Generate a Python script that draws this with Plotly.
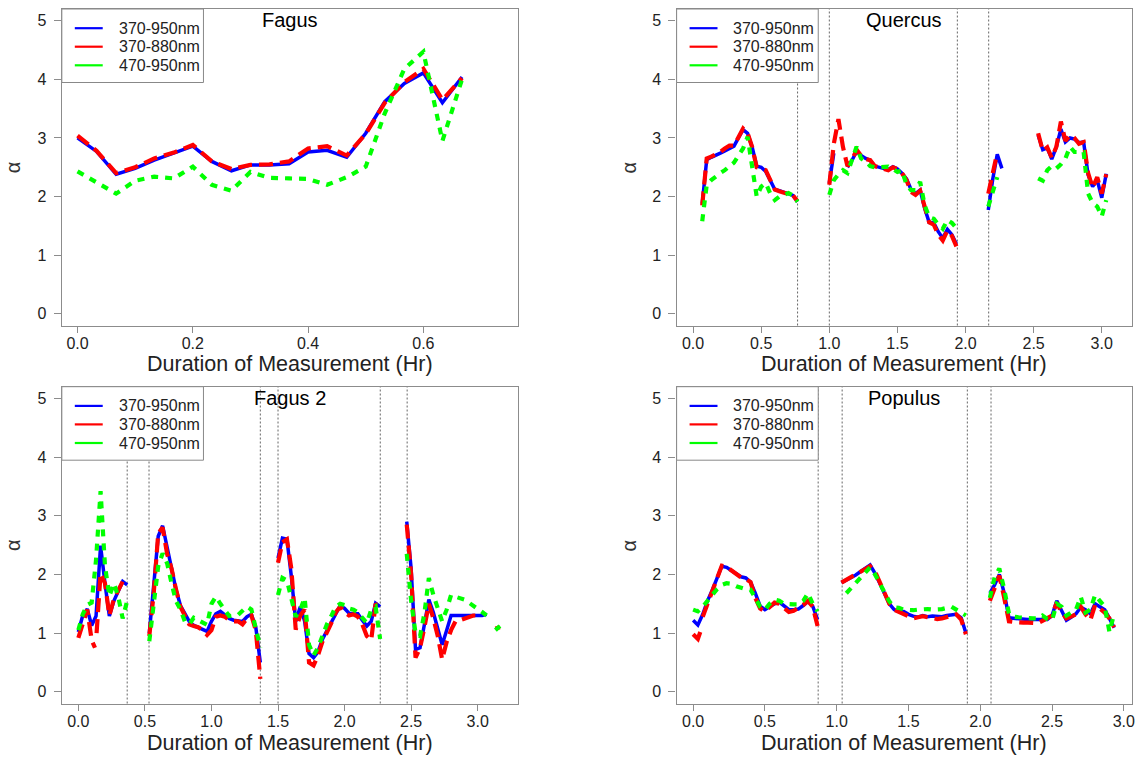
import plotly.graph_objects as go

# ======================= DATA =======================
# ---- Fagus ----
fagus_x = [0.0, 0.033, 0.067, 0.1, 0.133, 0.167, 0.2, 0.233, 0.267, 0.3, 0.333,
           0.367, 0.4, 0.433, 0.467, 0.5, 0.533, 0.567, 0.6, 0.633, 0.667]
fagus_blue = [3.00, 2.77, 2.38, 2.48, 2.62, 2.74, 2.86, 2.60, 2.44, 2.54, 2.54,
              2.56, 2.76, 2.79, 2.67, 3.08, 3.62, 3.93, 4.11, 3.60, 4.04]
fagus_red = [3.04, 2.78, 2.40, 2.50, 2.65, 2.75, 2.88, 2.60, 2.47, 2.54, 2.55,
             2.60, 2.82, 2.86, 2.70, 3.07, 3.60, 3.95, 4.18, 3.65, 4.02]
fagus_green = [2.43, 2.25, 2.05, 2.27, 2.34, 2.31, 2.51, 2.20, 2.10, 2.42, 2.32,
               2.31, 2.30, 2.20, 2.33, 2.51, 3.42, 4.18, 4.47, 2.95, 4.00]

# ---- Quercus ----
quercus_x1 = [0.067, 0.1, 0.133, 0.167, 0.2, 0.233, 0.267, 0.3, 0.333, 0.367, 0.4,
              0.433, 0.467, 0.5, 0.533, 0.567, 0.6, 0.633, 0.667, 0.7, 0.733, 0.767]
quercus_blue1 = [1.88, 2.63, 2.67, 2.70, 2.74, 2.78, 2.82, 2.86, 3.00, 3.14, 3.08,
                 2.85, 2.52, 2.50, 2.43, 2.28, 2.12, 2.10, 2.07, 2.05, 2.02, 1.91]
quercus_red1 = [1.85, 2.65, 2.68, 2.72, 2.76, 2.82, 2.87, 2.87, 3.02, 3.16, 3.08,
                2.85, 2.50, 2.48, 2.45, 2.28, 2.12, 2.09, 2.07, 2.05, 2.02, 1.92]
quercus_green1 = [1.58, 2.20, 2.28, 2.35, 2.40, 2.45, 2.52, 2.58, 2.70, 2.82, 3.02,
                  2.50, 2.00, 2.17, 2.23, 2.05, 1.94, 2.00, 2.03, 2.06, 2.02, 1.91]

quercus_x2 = [1.0, 1.033, 1.067, 1.1, 1.133, 1.167, 1.2, 1.233, 1.267, 1.3, 1.333,
              1.367, 1.4, 1.433, 1.467, 1.5, 1.533, 1.567, 1.6, 1.633, 1.667, 1.7,
              1.733, 1.767, 1.8, 1.833, 1.867, 1.9, 1.933]
quercus_blue2 = [2.23, 2.74, None, None, 2.50, 2.62, 2.77, 2.70, 2.65, 2.62, 2.52,
                 2.50, 2.48, 2.46, 2.51, 2.47, 2.40, 2.30, 2.12, 2.05, 2.11, 1.80,
                 1.56, 1.55, 1.40, 1.29, 1.44, 1.35, 1.19]
quercus_red2 = [2.20, 2.90, 3.32, 2.85, 2.52, 2.62, 2.80, 2.70, 2.64, 2.62, 2.52,
                2.50, 2.47, 2.45, 2.50, 2.47, 2.40, 2.28, 2.08, 2.03, 2.10, 1.80,
                1.56, 1.52, 1.35, 1.25, 1.42, 1.33, 1.15]
quercus_green2 = [2.03, 2.28, 2.38, 2.45, 2.40, 2.62, 2.85, 2.65, 2.60, 2.52, 2.50,
                  2.50, 2.50, 2.51, 2.47, 2.42, 2.45, 2.20, 2.11, 2.11, 2.25, 1.85,
                  1.65, 1.62, 1.52, 1.45, 1.60, 1.55, 1.46]

quercus_x3 = [2.167, 2.2, 2.233, 2.267]
quercus_blue3 = [1.77, 2.30, 2.72, 2.48]
quercus_red3 = [2.05, 2.40, 2.75, None]
quercus_green3 = [1.83, 2.11, 2.33, None]

quercus_x4 = [2.533, 2.567, 2.6, 2.633, 2.667, 2.7, 2.733, 2.767, 2.8, 2.833, 2.867,
              2.9, 2.933, 2.967, 3.0, 3.033]
quercus_blue4 = [3.05, 2.80, 2.83, 2.64, 2.85, 3.15, 2.93, 3.00, 2.98, 2.92, 2.93,
                 2.37, 2.17, 2.28, 1.98, 2.39]
quercus_red4 = [3.08, 2.78, 2.84, 2.66, 2.85, 3.28, 2.95, 3.05, 3.00, 2.90, 2.93,
                2.40, 2.15, 2.33, 2.05, 2.38]
quercus_green4 = [2.31, 2.27, 2.45, 2.52, 2.48, 2.55, 2.65, 2.85, 2.76, 2.76, 2.76,
                  2.05, 1.89, 1.83, 1.66, 1.94]
quercus_vlines = [0.767, 1.0, 1.94, 2.17]

# ---- Fagus 2 ----
fagus2_xA = [0.0, 0.033, 0.067, 0.1, 0.133, 0.167, 0.2, 0.233, 0.267, 0.3, 0.333, 0.367]
fagus2_blueA = [1.02, 1.30, 1.41, 1.13, 1.29, 2.49, 1.85, 1.29, 1.55, 1.72, 1.88, 1.82]
fagus2_greenA = [1.05, 1.32, 1.48, 1.52, 2.25, 3.42, 2.15, 1.63, 1.85, 1.62, 1.25, 1.55]
fagus2_redA1_x = [0.0, 0.033, 0.067, 0.1, 0.125]
fagus2_redA1 = [0.92, 1.15, 1.40, 0.88, 0.75]
fagus2_redA2_x = [0.137, 0.167, 0.2, 0.233, 0.267, 0.3, 0.333, 0.367]
fagus2_redA2 = [1.00, 2.02, 1.85, 1.30, 1.58, 1.72, 1.88, 1.82]

fagus2_xB = [0.533, 0.567, 0.6, 0.633, 0.667, 0.7, 0.733, 0.767, 0.8, 0.833, 0.867,
             0.9, 0.933, 0.967, 1.0, 1.033, 1.067, 1.1, 1.133, 1.167, 1.2, 1.233,
             1.267, 1.3, 1.333, 1.367]
fagus2_blueB = [1.00, 1.85, 2.65, 2.83, 2.45, 2.15, 1.75, 1.47, 1.34, 1.20, 1.13,
                1.10, 1.07, 1.03, 1.20, 1.33, 1.37, 1.30, 1.25, 1.22, 1.21, 1.20,
                1.28, 1.32, 1.10, 0.50]
fagus2_redB = [0.95, 1.70, 2.70, 2.80, 2.35, 2.10, 1.75, 1.45, 1.30, 1.15, 1.12,
               1.10, 1.05, 0.97, 1.05, 1.28, 1.30, 1.28, 1.22, 1.20, 1.20, 1.15,
               1.25, 1.30, 1.05, 0.22]
fagus2_greenB = [0.86, 1.55, 2.14, 2.36, 2.19, 1.85, 1.55, 1.40, 1.20, 1.15, 1.26,
                 1.22, 1.17, 1.14, 1.50, 1.62, 1.50, 1.40, 1.29, 1.30, 1.31, 1.38,
                 1.45, 1.40, 1.06, 0.75]

fagus2_xC = [1.5, 1.533, 1.567, 1.6, 1.633, 1.667, 1.7, 1.733, 1.767, 1.8, 1.833,
             1.867, 1.9, 1.933, 1.967, 2.0, 2.033, 2.067, 2.1, 2.133, 2.167, 2.2,
             2.233, 2.267]
fagus2_blueC = [2.28, 2.62, 2.60, 1.97, 1.20, 1.45, 1.20, 0.65, 0.58, 0.68, 0.89,
                1.04, 1.19, 1.34, 1.47, 1.42, 1.34, 1.33, 1.33, 1.22, 1.12, 1.20,
                1.51, 1.45]
fagus2_redC = [2.20, 2.55, 2.60, 2.10, 1.06, 1.30, 1.40, 0.50, 0.45, 0.62, 0.85,
               1.00, 1.17, 1.35, 1.45, 1.35, 1.30, 1.32, 1.28, 1.15, 0.95, 0.88,
               1.50, 1.42]
fagus2_greenC = [1.65, 1.94, 1.90, 1.62, 1.28, 1.40, 1.60, 0.80, 0.62, 0.75, 0.95,
                 1.15, 1.29, 1.45, 1.50, 1.48, 1.42, 1.40, 1.35, 1.25, 1.17, 1.40,
                 1.45, 0.90]

fagus2_xD = [2.467, 2.5, 2.533, 2.567, 2.6, 2.633, 2.667, 2.7, 2.733, 2.767, 2.8,
             2.833, 2.867, 2.9, 2.933, 2.967, 3.0, 3.033, 3.067]
fagus2_blueD = [2.90, 2.10, 0.72, 0.75, 1.15, 1.57, 1.35, 1.05, 0.80, 1.05, 1.30,
                1.30, 1.30, 1.31, 1.31, 1.31, 1.31, 1.30, 1.32]
fagus2_redD = [2.85, 2.00, 0.58, 0.75, 1.10, 1.50, 1.25, 0.95, 0.55, 0.85, 1.05,
               1.20, 1.22, 1.25, 1.27, 1.30, 1.30, None, None]
fagus2_greenD = [2.35, 1.55, 1.00, 0.95, 1.34, 1.94, 1.65, 1.40, 1.20, 1.40, 1.65,
                 1.62, 1.60, 1.57, 1.52, 1.47, 1.42, 1.36, 1.30]
fagus2_xE = [3.133, 3.167]
fagus2_redE = [1.08, 1.10]
fagus2_greenE = [1.05, 1.12]
fagus2_vlines = [0.367, 0.531, 1.367, 1.50, 2.268, 2.47]

# ---- Populus ----
populus_x1 = [0.0, 0.033, 0.067, 0.1, 0.133, 0.167, 0.2, 0.233, 0.267, 0.3, 0.333,
              0.367, 0.4, 0.433, 0.467, 0.5, 0.533, 0.567, 0.6, 0.633, 0.667, 0.7,
              0.733, 0.767, 0.8, 0.833, 0.867]
populus_blue1 = [1.22, 1.14, 1.32, 1.55, 1.73, 1.95, 2.14, 2.12, 2.07, 2.02, 1.96,
                 1.94, 1.87, 1.68, 1.46, 1.40, 1.45, 1.50, 1.53, 1.46, 1.40, 1.40,
                 1.41, 1.47, 1.54, 1.46, 1.23]
populus_redA_x = [0.0, 0.033, 0.05]
populus_redA = [0.98, 0.90, 1.02]
populus_red1 = [None, None, 1.28, 1.50, 1.75, 1.98, 2.15, 2.13, 2.07, 2.00, 1.95,
                1.92, 1.87, 1.60, 1.42, 1.37, 1.45, 1.52, 1.50, 1.42, 1.36, 1.38,
                1.42, 1.48, 1.55, 1.45, 1.12]
populus_green1 = [1.40, 1.37, 1.45, 1.54, 1.65, 1.75, 1.82, 1.85, 1.84, 1.80, 1.77,
                  1.75, 1.74, 1.60, 1.45, 1.40, 1.50, 1.57, 1.55, 1.50, 1.49, 1.49,
                  1.49, 1.55, 1.68, 1.50, 1.37]

populus_x2 = [1.033, 1.067, 1.1, 1.133, 1.167, 1.2, 1.233, 1.267, 1.3, 1.333, 1.367,
              1.4, 1.433, 1.467, 1.5, 1.533, 1.567, 1.6, 1.633, 1.667, 1.7, 1.733,
              1.767, 1.8, 1.833, 1.867, 1.9]
populus_blue2 = [1.86, 1.90, 1.95, 1.99, 2.05, 2.10, 2.16, 2.02, 1.85, 1.65, 1.50,
                 1.40, 1.37, 1.37, 1.32, 1.29, 1.27, 1.30, 1.28, 1.29, 1.29, 1.28,
                 1.30, 1.31, 1.32, 1.26, 1.00]
populus_red2 = [1.86, 1.91, 1.96, 2.00, 2.05, 2.10, 2.14, 2.05, 1.88, 1.68, 1.50,
                1.40, 1.36, 1.33, 1.28, 1.25, 1.27, 1.29, 1.27, 1.25, 1.24, 1.25,
                1.28, 1.30, 1.32, 1.23, 0.98]
populus_green2 = [None, 1.68, 1.77, 1.85, 1.93, 2.02, 2.12, 2.00, 1.85, 1.68, 1.54,
                  1.44, 1.43, 1.40, 1.39, 1.39, 1.40, 1.41, 1.41, 1.40, 1.40, 1.41,
                  1.43, 1.45, 1.40, 1.35, 1.30]

populus_x3 = [2.067, 2.1, 2.133, 2.167, 2.2, 2.233, 2.267, 2.3, 2.333, 2.367, 2.4,
              2.433, 2.467, 2.5, 2.533, 2.567, 2.6, 2.633, 2.667, 2.7, 2.733, 2.767,
              2.8, 2.833, 2.867, 2.9, 2.933]
populus_blue3 = [1.68, 1.82, 2.00, 1.68, 1.26, 1.25, 1.24, 1.24, 1.23, 1.23, 1.23,
                 1.23, 1.23, 1.30, 1.55, 1.38, 1.22, 1.27, 1.33, 1.44, 1.40, 1.33,
                 1.50, 1.45, 1.40, 1.25, 1.09]
populus_red3 = [1.55, 1.75, 1.98, 1.60, 1.20, 1.19, 1.18, 1.18, 1.18, 1.17, 1.17,
                1.21, 1.26, 1.30, 1.52, 1.35, 1.25, 1.28, 1.32, 1.45, 1.32, 1.22,
                1.48, 1.42, 1.35, 1.25, 1.10]
populus_green3 = [1.60, 1.95, 2.10, 1.75, 1.33, 1.28, 1.27, 1.26, 1.25, 1.25, 1.25,
                  1.30, 1.24, 1.22, 1.50, 1.45, 1.30, 1.35, 1.40, 1.62, 1.35, 1.40,
                  1.65, 1.55, 1.45, 1.02, 1.33]
populus_vlines = [0.871, 1.038, 1.91, 2.075]

# ---- labels / ticks ----
series_names = ["370-950nm", "370-880nm", "470-950nm"]
panel_titles = ["Fagus", "Quercus", "Fagus 2", "Populus"]
x_title = "Duration of Measurement (Hr)"
y_title = "\u03b1"
fagus_xticks = [0.0, 0.2, 0.4, 0.6]
wide_xticks = [0.0, 0.5, 1.0, 1.5, 2.0, 2.5, 3.0]
y_ticks = [0, 1, 2, 3, 4, 5]

# ======================= HELPERS =======================
def join(xsegs, ysegs):
    xs, ys = [], []
    for xs_, ys_ in zip(xsegs, ysegs):
        if xs:
            xs.append(None)
            ys.append(None)
        xs.extend(xs_)
        ys.extend(ys_)
    return xs, ys

series = [
    [join([fagus_x], [fagus_blue]),
     join([fagus_x], [fagus_red]),
     join([fagus_x], [fagus_green])],
    [join([quercus_x1, quercus_x2, quercus_x3, quercus_x4],
          [quercus_blue1, quercus_blue2, quercus_blue3, quercus_blue4]),
     join([quercus_x1, quercus_x2, quercus_x3, quercus_x4],
          [quercus_red1, quercus_red2, quercus_red3, quercus_red4]),
     join([quercus_x1, quercus_x2, quercus_x3, quercus_x4],
          [quercus_green1, quercus_green2, quercus_green3, quercus_green4])],
    [join([fagus2_xA, fagus2_xB, fagus2_xC, fagus2_xD],
          [fagus2_blueA, fagus2_blueB, fagus2_blueC, fagus2_blueD]),
     join([fagus2_redA1_x, fagus2_redA2_x, fagus2_xB, fagus2_xC, fagus2_xD, fagus2_xE],
          [fagus2_redA1, fagus2_redA2, fagus2_redB, fagus2_redC, fagus2_redD, fagus2_redE]),
     join([fagus2_xA, fagus2_xB, fagus2_xC, fagus2_xD, fagus2_xE],
          [fagus2_greenA, fagus2_greenB, fagus2_greenC, fagus2_greenD, fagus2_greenE])],
    [join([populus_x1, populus_x2, populus_x3],
          [populus_blue1, populus_blue2, populus_blue3]),
     join([populus_redA_x, populus_x1, populus_x2, populus_x3],
          [populus_redA, populus_red1, populus_red2, populus_red3]),
     join([populus_x1, populus_x2, populus_x3],
          [populus_green1, populus_green2, populus_green3])],
]
vlines = [[], quercus_vlines, fagus2_vlines, populus_vlines]

# ======================= STYLE / LAYOUT =======================
W, H = 1139, 758
FONT = "Liberation Sans, Arial, Helvetica, sans-serif"
COLORS = ["#0000FF", "#FF0000", "#00FF00"]
WIDTHS = [3.5, 4.2, 4.2]
DASHES = ["solid", "14px,7px", "7px,7px"]
GRAY = "#8c8c8c"

def fx(p):
    return p / W

def fy(p):
    return 1 - p / H

boxes = [(62, 519, 9, 325.5), (678.4, 1134.7, 9, 325.5),
         (62, 519, 386.7, 703.5), (678.4, 1134.7, 386.7, 703.5)]
xranges = [[-0.0272, 0.7635], [-0.121, 3.22], [-0.124, 3.30], [-0.115, 3.055]]
xticks = [fagus_xticks, wide_xticks, wide_xticks, wide_xticks]
ytitle_x = [13, 631, 13, 631]
xtitle_y = [364, 364, 742.5, 742.5]
ptitle_y = [20, 20, 398.5, 398.5]

# legend geometry (px offsets from the plot's top-left corner)
LEG_W, LEG_H = 142, 73.5
LEG_ROWS = [19.2, 37.7, 56.3]
LEG_LINE = (13, 41)
LEG_TEXT = 55

fig = go.Figure()
layout = dict(width=W, height=H, margin=dict(l=0, r=0, t=0, b=0),
              paper_bgcolor="white", plot_bgcolor="white",
              font=dict(family=FONT, color="black"), showlegend=False)
shapes, annotations = [], []

for i in range(4):
    n = "" if i == 0 else str(i + 1)
    xa, ya = "x" + n, "y" + n
    for k in range(3):
        xs, ys = series[i][k]
        fig.add_trace(go.Scatter(
            x=xs, y=ys, mode="lines", xaxis=xa, yaxis=ya, name=series_names[k],
            line=dict(color=COLORS[k], width=WIDTHS[k], dash=DASHES[k]),
            hoverinfo="skip"))
    l, r, t, b = boxes[i]
    tv = xticks[i]
    layout["xaxis" + n] = dict(
        domain=[fx(l), fx(r)], range=xranges[i], anchor=ya,
        showgrid=False, zeroline=False, showline=True, mirror=True,
        linecolor=GRAY, linewidth=1.3, ticks="outside", ticklen=6,
        tickcolor=GRAY, tickwidth=1, tickvals=tv,
        ticktext=["%.1f" % v for v in tv],
        tickfont=dict(family=FONT, size=16, color="#222"),
        ticklabelstandoff=-3)
    layout["yaxis" + n] = dict(
        domain=[fy(b), fy(t)], range=[-0.2, 5.2], anchor=xa,
        showgrid=False, zeroline=False, showline=True, mirror=True,
        linecolor=GRAY, linewidth=1.3, ticks="outside", ticklen=7,
        tickcolor=GRAY, tickwidth=1, tickvals=y_ticks,
        ticktext=[str(v) for v in y_ticks],
        tickfont=dict(family=FONT, size=16, color="#222"),
        ticklabelstandoff=4)
    for v in vlines[i]:
        shapes.append(dict(type="line", xref=xa, yref=ya + " domain",
                           x0=v, x1=v, y0=0, y1=1, layer="below",
                           line=dict(color="#666666", width=1, dash="2px,2px")))
    shapes.append(dict(type="rect", xref="paper", yref="paper",
                       x0=fx(l), x1=fx(l + LEG_W), y0=fy(t + LEG_H), y1=fy(t),
                       fillcolor="white", layer="above",
                       line=dict(color="#888888", width=1)))
    for k in range(3):
        yy = fy(t + LEG_ROWS[k])
        shapes.append(dict(type="line", xref="paper", yref="paper",
                           x0=fx(l + LEG_LINE[0]), x1=fx(l + LEG_LINE[1]),
                           y0=yy, y1=yy, layer="above",
                           line=dict(color=COLORS[k], width=2.2)))
        annotations.append(dict(text=series_names[k], x=fx(l + LEG_TEXT), y=yy,
                                xref="paper", yref="paper", showarrow=False,
                                xanchor="left", yanchor="middle",
                                font=dict(family=FONT, size=16, color="#222")))
    cx = fx((l + r) / 2)
    annotations.append(dict(text=panel_titles[i], x=cx, y=fy(ptitle_y[i]),
                            xref="paper", yref="paper", showarrow=False,
                            xanchor="center", yanchor="middle",
                            font=dict(family=FONT, size=20, color="black")))
    annotations.append(dict(text=x_title, x=cx, y=fy(xtitle_y[i]),
                            xref="paper", yref="paper", showarrow=False,
                            xanchor="center", yanchor="middle",
                            font=dict(family=FONT, size=21.5, color="#222")))
    annotations.append(dict(text=y_title, x=fx(ytitle_x[i]), y=fy((t + b) / 2),
                            xref="paper", yref="paper", showarrow=False,
                            xanchor="center", yanchor="middle", textangle=-90,
                            font=dict(family=FONT, size=20, color="#333")))

layout["shapes"] = shapes
layout["annotations"] = annotations
fig.update_layout(**layout)

fig.write_html("out.html", config={"displayModeBar": False},
               post_script="document.body.style.margin='0px';document.body.style.overflow='hidden';")
